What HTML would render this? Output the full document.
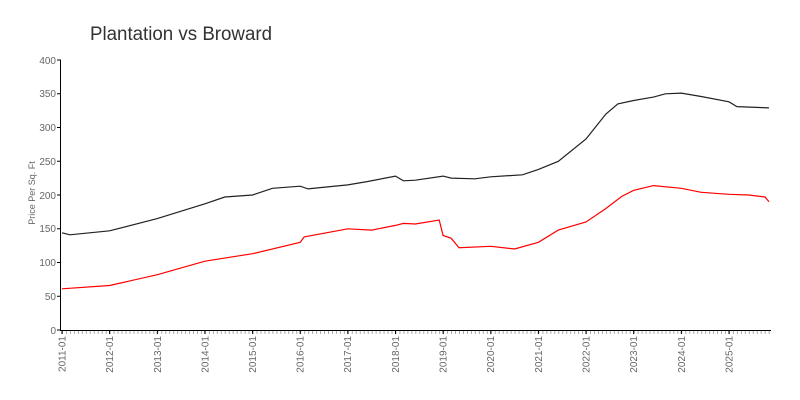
<!DOCTYPE html>
<html><head><meta charset="utf-8"><style>body{margin:0;background:#fff}svg{display:block}</style></head>
<body>
<svg width="800" height="400" xmlns="http://www.w3.org/2000/svg" font-family="Liberation Sans, sans-serif">
<text x="90" y="40" font-size="19" fill="#333" textLength="182" lengthAdjust="spacingAndGlyphs">Plantation vs Broward</text>
<text transform="translate(35,193) rotate(-90)" text-anchor="middle" font-size="9" fill="#666">Price Per Sq. Ft</text>
<g stroke="#000" stroke-width="1">
<line x1="60.5" y1="60" x2="60.5" y2="330"/>
<line x1="60" y1="330.5" x2="771" y2="330.5"/>
</g>
<g font-size="10" fill="#666" text-anchor="end">
<text x="56" y="334">0</text><text x="56" y="300">50</text><text x="56" y="266">100</text><text x="56" y="232">150</text><text x="56" y="199">200</text><text x="56" y="165">250</text><text x="56" y="131">300</text><text x="56" y="97">350</text><text x="56" y="64">400</text>
</g>
<g stroke="#000"><line x1="57" x2="61" y1="330" y2="330"/><line x1="57" x2="61" y1="296.25" y2="296.25"/><line x1="57" x2="61" y1="262.5" y2="262.5"/><line x1="57" x2="61" y1="228.75" y2="228.75"/><line x1="57" x2="61" y1="195" y2="195"/><line x1="57" x2="61" y1="161.25" y2="161.25"/><line x1="57" x2="61" y1="127.5" y2="127.5"/><line x1="57" x2="61" y1="93.75" y2="93.75"/><line x1="57" x2="61" y1="60" y2="60"/></g>
<line x1="62" x2="770" y1="332.5" y2="332.5" stroke="#aaa" stroke-width="3" stroke-dasharray="1 2.97"/>
<g font-size="10" fill="#666" text-anchor="end">
<text transform="translate(65.5,336) rotate(-90)">2011-01</text>
<text transform="translate(113,336) rotate(-90)">2012-01</text>
<text transform="translate(161,336) rotate(-90)">2013-01</text>
<text transform="translate(208.5,336) rotate(-90)">2014-01</text>
<text transform="translate(256,336) rotate(-90)">2015-01</text>
<text transform="translate(303.5,336) rotate(-90)">2016-01</text>
<text transform="translate(351,336) rotate(-90)">2017-01</text>
<text transform="translate(399,336) rotate(-90)">2018-01</text>
<text transform="translate(446.5,336) rotate(-90)">2019-01</text>
<text transform="translate(494,336) rotate(-90)">2020-01</text>
<text transform="translate(542,336) rotate(-90)">2021-01</text>
<text transform="translate(589.5,336) rotate(-90)">2022-01</text>
<text transform="translate(637,336) rotate(-90)">2023-01</text>
<text transform="translate(685,336) rotate(-90)">2024-01</text>
<text transform="translate(732.5,336) rotate(-90)">2025-01</text>
</g>
<g stroke="#000">
<line x1="62" x2="62" y1="330" y2="334"/><line x1="109.6" x2="109.6" y1="330" y2="334"/><line x1="157.3" x2="157.3" y1="330" y2="334"/><line x1="204.9" x2="204.9" y1="330" y2="334"/><line x1="252.6" x2="252.6" y1="330" y2="334"/><line x1="300.2" x2="300.2" y1="330" y2="334"/><line x1="347.8" x2="347.8" y1="330" y2="334"/><line x1="395.5" x2="395.5" y1="330" y2="334"/><line x1="443.1" x2="443.1" y1="330" y2="334"/><line x1="490.8" x2="490.8" y1="330" y2="334"/><line x1="538.4" x2="538.4" y1="330" y2="334"/><line x1="586" x2="586" y1="330" y2="334"/><line x1="633.7" x2="633.7" y1="330" y2="334"/><line x1="681.3" x2="681.3" y1="330" y2="334"/><line x1="729" x2="729" y1="330" y2="334"/>
</g>
<polyline fill="none" stroke="#222" stroke-width="1.2" points="62,232.8 69.9,234.8 109.6,230.8 157.3,218.6 204.9,203.8 224.8,197 252.6,195 272.4,188.3 300.2,186.2 308.1,188.9 320.1,187.6 347.8,184.9 367.7,181.5 395.5,176.1 403.4,180.8 415.3,180.2 443.1,176.1 451.1,178.1 474.9,178.8 490.8,176.8 522.5,174.8 538.4,169.4 558.3,161.3 586,139 605.9,114 617.8,103.9 633.7,100.5 653.5,97.1 665.4,93.8 681.3,93.1 701.2,96.5 729,101.8 736.9,106.6 769,107.9"/>
<polyline fill="none" stroke="#f00" stroke-width="1.2" points="62,288.8 109.6,285.5 157.3,274.7 204.9,261.2 252.6,253.7 300.2,242.3 304.2,236.9 347.8,228.8 371.7,230.1 395.5,225.4 403.4,223.4 415.3,224 439.2,220 443.1,235.5 451.1,238.2 459,247.7 490.8,246.3 514.6,249 538.4,242.3 558.3,230.1 586,222 605.9,208.5 621.8,196.4 633.7,190.3 653.5,185.6 681.3,188.3 701.2,192.3 729,194.3 748.8,195 765,197 769,201.8"/>
</svg>
</body></html>
